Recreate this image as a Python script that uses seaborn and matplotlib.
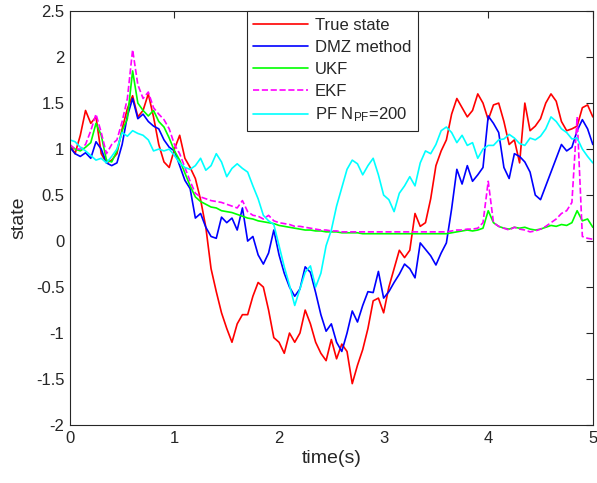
import numpy as np
import pandas as pd
import matplotlib
matplotlib.use("Agg")
import matplotlib.pyplot as plt
import seaborn as sns
from matplotlib.ticker import FuncFormatter, MultipleLocator

# sample times (s), step 0.05
time_s = np.arange(0, 5.001, 0.05)

true_state = [
    1.05, 0.95, 1.15, 1.42, 1.28, 1.35, 0.95, 0.85, 0.88, 0.95,
    1.22, 1.44, 1.58, 1.35, 1.42, 1.60, 1.35, 1.05, 0.86, 0.80,
    1.00, 1.15, 0.90, 0.80, 0.68, 0.45, 0.15, -0.30, -0.55, -0.78,
    -0.95, -1.10, -0.90, -0.80, -0.80, -0.60, -0.45, -0.50, -0.75, -1.05,
    -1.10, -1.22, -1.00, -1.10, -1.00, -0.75, -0.90, -1.10, -1.22, -1.30,
    -1.07, -1.28, -1.12, -1.20, -1.55, -1.35, -1.18, -0.95, -0.65, -0.62,
    -0.78, -0.50, -0.30, -0.10, -0.18, -0.10, 0.30, 0.16, 0.20, 0.46,
    0.82, 0.98, 1.10, 1.38, 1.55, 1.45, 1.35, 1.42, 1.60, 1.50,
    1.32, 1.48, 1.50, 1.30, 1.05, 1.10, 0.85, 1.50, 1.20, 1.25,
    1.33, 1.50, 1.60, 1.52, 1.30, 1.20, 1.22, 1.25, 1.45, 1.48,
    1.35,
]

dmz = [
    1.02, 0.95, 0.92, 0.96, 0.90, 1.08, 1.00, 0.85, 0.82, 0.85,
    1.05, 1.36, 1.55, 1.33, 1.38, 1.30, 1.25, 1.22, 1.10, 1.02,
    0.98, 0.82, 0.66, 0.57, 0.25, 0.30, 0.15, 0.05, 0.03, 0.26,
    0.20, 0.25, 0.12, 0.36, 0.00, 0.05, -0.15, -0.25, -0.13, 0.12,
    -0.15, -0.35, -0.50, -0.60, -0.52, -0.28, -0.34, -0.56, -0.80, -0.98,
    -0.90, -1.10, -1.20, -1.00, -0.76, -0.88, -0.70, -0.55, -0.56, -0.33,
    -0.62, -0.55, -0.45, -0.36, -0.25, -0.30, -0.40, -0.02, -0.09, -0.16,
    -0.26, -0.13, -0.02, 0.35, 0.78, 0.62, 0.82, 0.65, 0.72, 0.80,
    1.36, 1.28, 1.18, 0.80, 0.68, 0.95, 0.92, 0.86, 0.75, 0.50,
    0.45, 0.60, 0.75, 0.90, 1.05, 0.98, 1.02, 1.20, 1.32, 1.22,
    1.05,
]

ukf = [
    1.04, 1.00, 0.98, 1.02, 1.07, 1.28, 1.15, 0.88, 0.86, 0.98,
    1.20, 1.33, 1.85, 1.50, 1.42, 1.36, 1.42, 1.30, 1.24, 1.12,
    0.98, 0.88, 0.74, 0.60, 0.48, 0.43, 0.40, 0.37, 0.36, 0.33,
    0.32, 0.31, 0.29, 0.27, 0.25, 0.24, 0.22, 0.21, 0.20, 0.19,
    0.17, 0.16, 0.15, 0.14, 0.13, 0.12, 0.12, 0.11, 0.11, 0.10,
    0.10, 0.10, 0.09, 0.09, 0.09, 0.09, 0.08, 0.08, 0.08, 0.08,
    0.08, 0.08, 0.08, 0.08, 0.08, 0.08, 0.08, 0.08, 0.08, 0.08,
    0.08, 0.08, 0.08, 0.09, 0.10, 0.11, 0.12, 0.11, 0.12, 0.14,
    0.33, 0.20, 0.16, 0.14, 0.13, 0.15, 0.14, 0.15, 0.13, 0.12,
    0.13, 0.15, 0.17, 0.16, 0.18, 0.17, 0.20, 0.33, 0.22, 0.24,
    0.15,
]

ekf = [
    1.05, 1.00, 1.00, 1.05, 1.20, 1.38, 1.18, 0.95, 1.05, 1.10,
    1.30, 1.55, 2.08, 1.70, 1.55, 1.62, 1.45, 1.38, 1.32, 1.22,
    1.05, 0.95, 0.80, 0.65, 0.52, 0.48, 0.46, 0.44, 0.43, 0.42,
    0.40, 0.38, 0.36, 0.44, 0.32, 0.28, 0.27, 0.24, 0.28, 0.22,
    0.20, 0.19, 0.18, 0.16, 0.16, 0.15, 0.14, 0.13, 0.12, 0.12,
    0.11, 0.11, 0.10, 0.10, 0.10, 0.10, 0.10, 0.10, 0.10, 0.10,
    0.10, 0.10, 0.10, 0.10, 0.10, 0.10, 0.10, 0.10, 0.10, 0.10,
    0.10, 0.10, 0.10, 0.11, 0.12, 0.12, 0.13, 0.13, 0.14, 0.20,
    0.65, 0.20, 0.16, 0.14, 0.12, 0.15, 0.13, 0.12, 0.10, 0.11,
    0.13, 0.16, 0.20, 0.24, 0.30, 0.33, 0.42, 1.35, 0.05, 0.03,
    0.02,
]

pf = [
    1.10, 1.08, 1.02, 0.98, 0.93, 0.88, 0.90, 0.85, 0.92, 1.00,
    1.18, 1.14, 1.20, 1.17, 1.15, 1.10, 0.98, 1.00, 0.98, 1.00,
    0.93, 0.85, 0.80, 0.78, 0.82, 0.90, 0.77, 0.82, 0.95, 0.86,
    0.70, 0.79, 0.84, 0.79, 0.75, 0.60, 0.46, 0.28, 0.22, 0.18,
    -0.05, -0.28, -0.48, -0.70, -0.52, -0.34, -0.27, -0.50, -0.35, -0.05,
    0.12, 0.38, 0.58, 0.78, 0.88, 0.84, 0.72, 0.82, 0.90, 0.72,
    0.50, 0.45, 0.32, 0.52, 0.60, 0.70, 0.60, 0.85, 0.98, 0.95,
    1.05, 1.20, 1.24, 1.18, 1.07, 1.15, 1.04, 1.07, 0.90, 1.00,
    1.04, 1.04, 1.10, 1.11, 1.16, 1.12, 1.06, 1.04, 1.12, 1.10,
    1.14, 1.22, 1.35, 1.30, 1.22, 1.18, 1.11, 1.12, 1.00, 0.92,
    0.85,
]

series = [
    ("True state", true_state, "#ff0000", "-"),
    ("DMZ method", dmz, "#0000ff", "-"),
    ("UKF", ukf, "#00ff00", "-"),
    ("EKF", ekf, "#ff00ff", "--"),
    ("PF N$_{PF}$=200", pf, "#00ffff", "-"),
]

sns.set_theme(style="white")
plt.rcParams["font.family"] = ["Liberation Sans", "DejaVu Sans"]
plt.rcParams["mathtext.default"] = "regular"

fig = plt.figure(figsize=(5.97, 4.83), dpi=100)
ax = fig.add_axes([0.117, 0.120, 0.876, 0.857])

for label, vals, color, ls in series:
    df = pd.DataFrame({"t": time_s, "v": vals})
    sns.lineplot(data=df, x="t", y="v", ax=ax, color=color, linestyle=ls,
                 linewidth=1.2, label=label, estimator=None, sort=False)

ax.set_xlim(0, 5)
ax.set_ylim(-2, 2.5)
ax.xaxis.set_major_locator(MultipleLocator(1))
ax.yaxis.set_major_locator(MultipleLocator(0.5))
ax.yaxis.set_major_formatter(FuncFormatter(lambda v, p: f"{v:g}"))
ax.tick_params(direction="in", length=5, width=0.8, top=True, right=True,
               labelsize=12, colors="#262626", pad=4)
for sp in ax.spines.values():
    sp.set_color("#262626")
    sp.set_linewidth(0.8)

ax.set_xlabel("time(s)", fontsize=14, color="#262626", labelpad=3)
ax.set_ylabel("state", fontsize=14, color="#262626", labelpad=6)

leg = ax.legend(loc="upper left", bbox_to_anchor=(0.338, 1.0), fontsize=12,
                handlelength=3.3, handletextpad=0.4, labelspacing=0.42,
                borderpad=0.4, borderaxespad=0, frameon=True, fancybox=False,
                edgecolor="#262626", framealpha=1)
leg.get_frame().set_linewidth(0.8)

fig.savefig("out.png", dpi=100)
